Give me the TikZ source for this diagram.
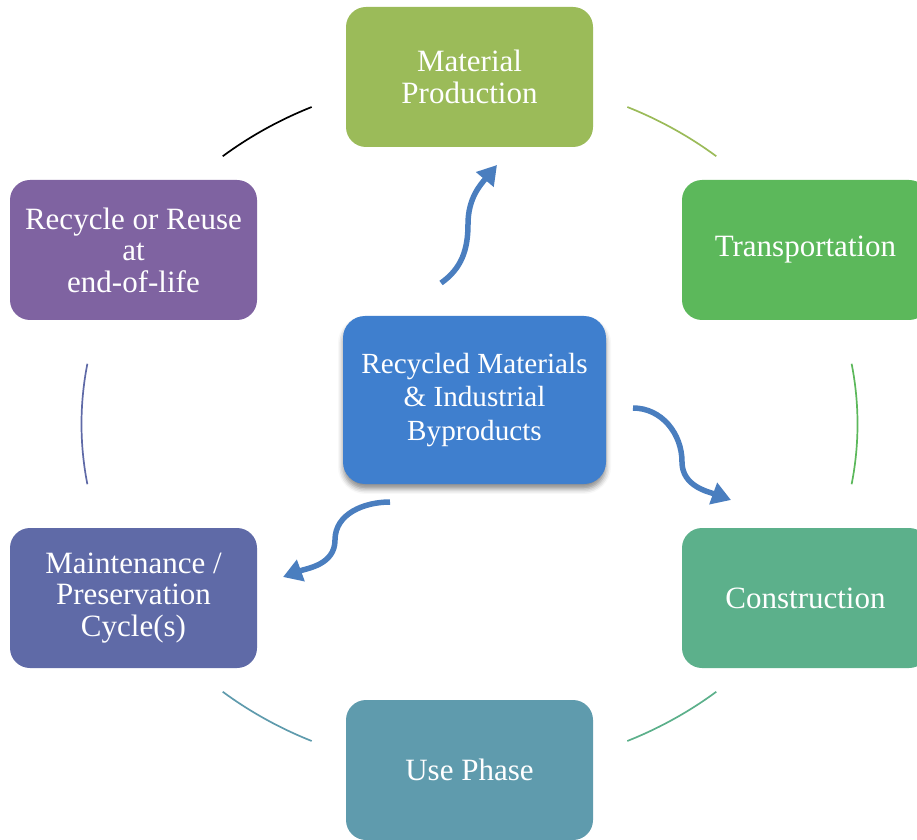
\documentclass[tikz,border=0pt]{standalone}
\usepackage{fontspec}
\setmainfont{Liberation Serif}
\usetikzlibrary{arrows.meta,shadows.blur}

\definecolor{cMat}{HTML}{9BBB59}
\definecolor{cTra}{HTML}{5CB85B}
\definecolor{cCon}{HTML}{5CB08B}
\definecolor{cUse}{HTML}{5F9BAD}
\definecolor{cMai}{HTML}{5F6AA7}
\definecolor{cRec}{HTML}{7F63A1}
\definecolor{cCen}{HTML}{3F7FCE}
\definecolor{cArr}{HTML}{4A7EBF}

\tikzset{
  stagebox/.style={rectangle, rounded corners=20pt, minimum width=247pt,
    minimum height=140pt, inner sep=0pt, align=center, text=white,
    font=\fontsize{31}{31.5}\selectfont},
  hubbox/.style={rectangle, rounded corners=22pt, minimum width=263pt,
    minimum height=168pt, inner sep=0pt, align=center, text=white,
    fill=cCen, font=\fontsize{29.2}{33.5}\selectfont,
    blur shadow={shadow xshift=0pt, shadow yshift=-5pt,
      shadow blur radius=5pt, shadow opacity=45}},
  ringarc/.style={line width=1.7pt},
  flowarrow/.style={draw=cArr, line width=5.5pt,
    -{Triangle[length=19pt,width=22pt]}},
}

\begin{document}
\begin{tikzpicture}[x=1pt,y=1pt]
  \useasboundingbox (0,0) rectangle (917,839);
  \clip (0,0) rectangle (917,839);

  % ring of thin arc segments joining the stages
  \coordinate (ring) at (469.5,415);
  \draw[ringarc, cMat]  ([shift={(50.5:388pt and 347pt)}]ring) arc[start angle=50.5, end angle=66, x radius=388pt, y radius=347pt];
  \draw[ringarc, black] ([shift={(114:388pt and 347pt)}]ring) arc[start angle=114, end angle=129.5, x radius=388pt, y radius=347pt];
  \draw[ringarc, cMai]  ([shift={(170:388pt and 347pt)}]ring) arc[start angle=170, end angle=190, x radius=388pt, y radius=347pt];
  \draw[ringarc, cUse]  ([shift={(230.5:388pt and 347pt)}]ring) arc[start angle=230.5, end angle=246, x radius=388pt, y radius=347pt];
  \draw[ringarc, cCon]  ([shift={(294:388pt and 347pt)}]ring) arc[start angle=294, end angle=309.5, x radius=388pt, y radius=347pt];
  \draw[ringarc, cTra]  ([shift={(-10:388pt and 347pt)}]ring) arc[start angle=-10, end angle=10, x radius=388pt, y radius=347pt];

  % life-cycle stages
  \node[stagebox, fill=cMat] (mat) at (469.5,762) {Material\\Production};
  \node[stagebox, fill=cTra] (tra) at (805.5,589) {Transportation};
  \node[stagebox, fill=cCon] (con) at (805.5,241) {Construction};
  \node[stagebox, fill=cUse] (use) at (469.5,69) {Use Phase};
  \node[stagebox, fill=cMai] (mai) at (133.5,241) {Maintenance /\\Preservation\\Cycle(s)};
  \node[stagebox, fill=cRec] (rec) at (133.5,589) {Recycle or Reuse\\at\\end-of-life};

  % central hub
  \node[hubbox] (hub) at (474.5,439) {Recycled Materials\\\&\ Industrial\\Byproducts};

  % curved flows out of the hub
  \coordinate (a1s) at (441,556);
  \coordinate (a1m) at (468,615);
  \coordinate (a1e) at (497,674);
  \draw[flowarrow] (a1s) to[out=35,in=-90] (a1m) to[out=90,in=-130] (a1e);

  \coordinate (a2s) at (633,431);
  \coordinate (a2m) at (682,377);
  \coordinate (a2e) at (731,339);
  \draw[flowarrow] (a2s) to[out=0,in=90] (a2m) to[out=-90,in=160] (a2e);

  \coordinate (a3s) at (390,337);
  \coordinate (a3m) at (335,299);
  \coordinate (a3e) at (283,262);
  \draw[flowarrow] (a3s) to[out=180,in=90] (a3m) to[out=-90,in=20] (a3e);
\end{tikzpicture}
\end{document}
